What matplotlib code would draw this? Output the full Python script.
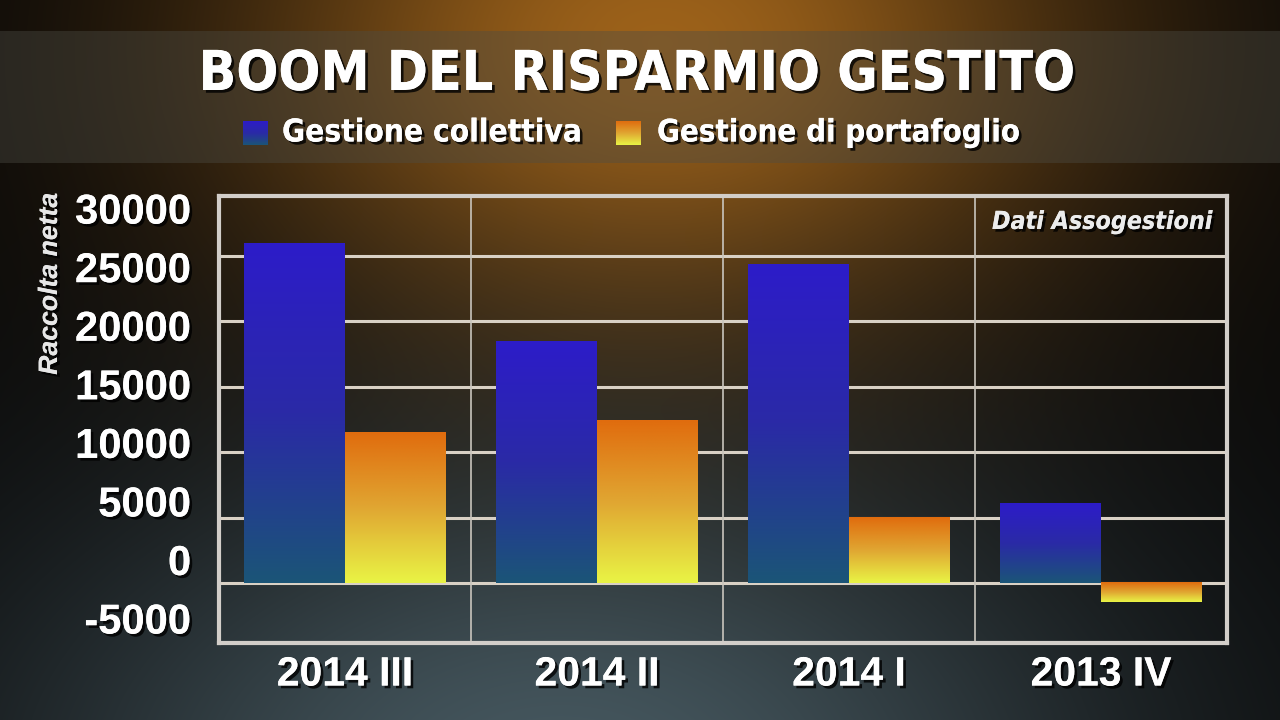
import numpy as np
import matplotlib
matplotlib.use("Agg")
import matplotlib.pyplot as plt
import matplotlib.patheffects as pe
from matplotlib import font_manager
from matplotlib.font_manager import FontProperties
from matplotlib.colors import LinearSegmentedColormap

# dati (raccolta netta, milioni di euro)
periodi = ['2014 III', '2014 II', '2014 I', '2013 IV']
collettiva = [26000, 18500, 24400, 6100]
portafoglio = [11500, 12400, 5000, -1500]
serie = ['Gestione collettiva', 'Gestione di portafoglio']
yticks_lab = [30000, 25000, 20000, 15000, 10000, 5000, 0, -5000]


def find_font(bold=True, italic=False):
    # cerca un font condensato, altrimenti Liberation Sans
    for f in font_manager.fontManager.ttflist:
        n = f.fname.lower()
        if ('narrow' in n or 'condensed' in n) and ('sans' in n):
            if bold and 'bold' not in n:
                continue
            if italic != ('italic' in n or 'oblique' in n):
                continue
            return FontProperties(fname=f.fname)
    return FontProperties(family=['Liberation Sans', 'DejaVu Sans'], weight='bold',
                          style='italic' if italic else 'normal')


fp_b = find_font()
fp_bi = find_font(italic=True)
fp_w = FontProperties(family=['Liberation Sans', 'DejaVu Sans'], weight='bold')
fp_wi = FontProperties(family=['Liberation Sans', 'DejaVu Sans'], weight='bold', style='italic')

blu = LinearSegmentedColormap.from_list('blu', ['#2d1cc9', '#2a2aa6', '#1b5577'])
ara = LinearSegmentedColormap.from_list('ara', ['#e06c0e', '#e0a632', '#e9f445'])

shadow = [pe.withSimplePatchShadow(offset=(2, -2), shadow_rgbFace='black', alpha=0.8), pe.Normal()]

fig = plt.figure(figsize=(12.8, 7.2), dpi=100)
renderer = fig.canvas.get_renderer()


def fit(t, width):
    # adatta la dimensione del testo alla larghezza (pixel) dell'originale
    wnow = t.get_window_extent(renderer).width
    t.set_fontsize(t.get_fontsize() * width / wnow)
    return t.get_fontsize()


# sfondo
H, W = 720, 1280
yy, xx = np.mgrid[0:H, 0:W]
img = np.zeros((H, W, 3)) + 0.03
g1 = np.exp(-((xx - 660) / 420.0) ** 2 - ((yy - 40) / 280.0) ** 2)
g2 = np.exp(-((xx - 560) / 560.0) ** 2 - ((yy - 780) / 330.0) ** 2)
img += g1[..., None] * np.array([0.58, 0.35, 0.07])
img += g2[..., None] * np.array([0.24, 0.31, 0.34])
img[31:163] = img[31:163] * 0.6 + 0.4 * np.array([0.30, 0.30, 0.27])
img = np.clip(img, 0, 1)
bg = fig.add_axes([0, 0, 1, 1], zorder=0)
bg.imshow(img, aspect='auto')
bg.axis('off')

ax = fig.add_axes([219 / 1280, 77 / 720, 1008 / 1280, 447 / 720], zorder=2)
ax.patch.set_alpha(0)

x = np.arange(len(periodi))
w = 0.4
r1 = ax.bar(x - w / 2, collettiva, w, color='none', zorder=3)
r2 = ax.bar(x + w / 2, portafoglio, w, color='none', zorder=3)

grad = np.linspace(0, 1, 256).reshape(-1, 1)
for rects, cm in [(r1, blu), (r2, ara)]:
    for r in rects:
        x0 = r.get_x()
        y0 = r.get_y()
        y1 = y0 + r.get_height()
        ax.imshow(grad, cmap=cm, aspect='auto', origin='upper',
                  extent=(x0, x0 + r.get_width(), min(y0, y1), max(y0, y1)), zorder=3)

for v in range(0, 30000, 5000):
    ax.axhline(v, color='#d9d1c5', lw=2.2, zorder=1)
for xv in [0.5, 1.5, 2.5]:
    ax.axvline(xv, color='#c9c5bd', lw=1.2, zorder=1)

ax.set_xlim(-0.5, 3.5)
ax.set_ylim(-4600, 29600)
for s in ax.spines.values():
    s.set_color('#d2cec9')
    s.set_linewidth(3)
ax.set_yticks([])
ax.set_xticks(x)

# misura le etichette per la dimensione
tmp = fig.text(0, 0, '2014 III', fontproperties=fp_w, fontsize=30)
xs = fit(tmp, 136)
tmp.set_text('30000')
tmp.set_fontproperties(fp_w)
tmp.set_fontsize(28)
ys = fit(tmp, 116)
tmp.remove()

ax.set_xticklabels(periodi, fontproperties=fp_w, fontsize=xs, color='white')
ax.tick_params(axis='x', length=0, pad=9)
for t in ax.get_xticklabels():
    t.set_path_effects(shadow)

# etichette asse y
tw = ax.twinx()
tw.set_zorder(2)
tw.patch.set_alpha(0)
tw.set_ylim(-7133, 31031)
tw.set_yticks(yticks_lab)
tw.set_yticklabels([str(v) for v in yticks_lab], fontproperties=fp_w, fontsize=ys, color='white')
tw.yaxis.tick_left()
tw.tick_params(axis='y', length=0, pad=20)
for s in tw.spines.values():
    s.set_visible(False)
for t in tw.get_yticklabels():
    t.set_path_effects(shadow)

t = fig.text(50 / 1280, 1 - 284 / 720, 'Raccolta netta', rotation=90, ha='center', va='center',
             fontproperties=fp_wi, fontsize=18, color='#e6e6e6', path_effects=shadow)
t.set_rotation(0)
fit(t, 182)
t.set_rotation(90)

t = ax.text(0.985, 0.942, 'Dati Assogestioni', transform=ax.transAxes, ha='right', va='center',
            fontproperties=fp_bi, fontsize=22, color='#ececec', path_effects=shadow, zorder=5)
fit(t, 220)

# titolo e legenda
t = fig.text(637 / 1280, 1 - 75 / 720, 'BOOM DEL RISPARMIO GESTITO', ha='center', va='center',
             fontproperties=fp_b, fontsize=47, color='white', path_effects=shadow)
fit(t, 875)

lg = fig.add_axes([0, 0, 1, 1], zorder=3)
lg.axis('off')
for (x0, cm, lab, tx, wd) in [(243, blu, serie[0], 282, 300), (616, ara, serie[1], 657, 363)]:
    lg.imshow(grad, cmap=cm, aspect='auto', origin='upper', extent=(x0, x0 + 25, 145, 121))
    t = lg.text(tx, 133, lab, ha='left', va='center', fontproperties=fp_b, fontsize=28,
                color='white', path_effects=shadow)
    fit(t, wd)
lg.set_xlim(0, 1280)
lg.set_ylim(720, 0)

fig.savefig('out.png', dpi=100)
